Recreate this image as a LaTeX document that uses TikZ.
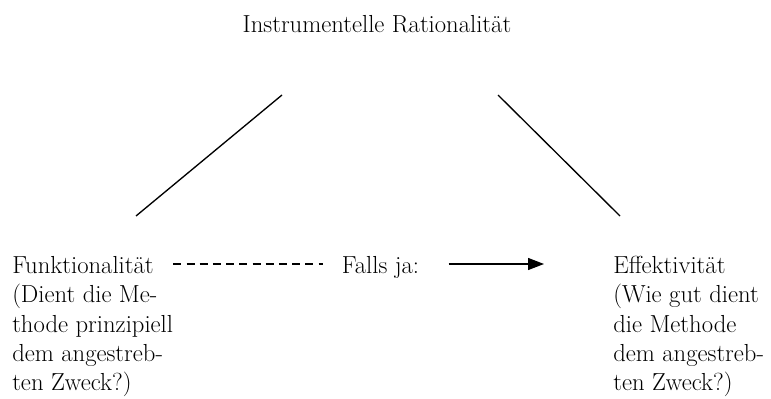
\documentclass[tikz,border=0pt]{standalone}
\usepackage{tikz}
\usetikzlibrary{arrows.meta,calc}

\begin{document}
\begin{tikzpicture}[
    x=0.75pt, y=-0.75pt,
    txt/.style={inner sep=0pt, anchor=north west, align=left, font=\fontsize{18.5}{22}\selectfont},
    link/.style={line width=1pt},
    arrow/.style={-{Triangle[length=12pt,width=9pt]}, line width=1pt}
]
    \useasboundingbox (0,0) rectangle (771,399);

    \node [txt, anchor=base] (title) at (377,33) {Instrumentelle Rationalität};
    \node [txt] (func) at (12,256) {Funktionalität\\(Dient die Me-\\thode prinzipiell\\dem angestreb-\\ten Zweck?)};
    \node [txt, inner xsep=14pt] (falls) at (323,256) {Falls ja:};
    \node [txt] (eff) at (613,256) {Effektivität\\(Wie gut dient\\die Methode\\dem angestreb-\\ten Zweck?)};

    % Enden der Schraegen
    \coordinate (l1) at (136,216);
    \coordinate (l2) at (282,95);
    \coordinate (r1) at (498,95);
    \coordinate (r2) at (620,216);
    \coordinate (tip) at (544,264);

    \draw [link] (l1) -- (l2);
    \draw [link] (r1) -- (r2);
    \draw [link, dash pattern=on 6pt off 3.9pt] (func.east |- tip) -- (falls.west |- tip);
    \draw [arrow, shorten <=8pt] (falls.east |- tip) -- (tip);
\end{tikzpicture}
\end{document}
